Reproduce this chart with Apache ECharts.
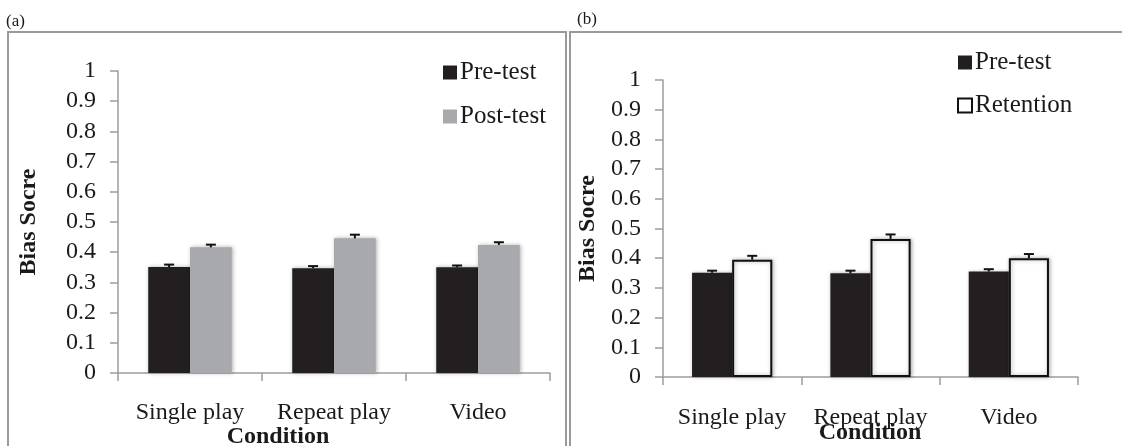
<!DOCTYPE html>
<html>
<head>
<meta charset="utf-8">
<script src="https://cdn.jsdelivr.net/npm/echarts@6/dist/echarts.min.js"></script>
<style>
html,body{margin:0;padding:0;background:#fff;}
#c{width:1122px;height:446px;}
</style>
</head>
<body>
<div id="c"></div>
<script>
// ---- data ----
var categories = ['Single play', 'Repeat play', 'Video'];
var preA = [0.351, 0.347, 0.350];
var preErrA = [0.008, 0.007, 0.006];
var postA = [0.416, 0.446, 0.424];
var postErrA = [0.009, 0.012, 0.009];
var preB = [0.351, 0.349, 0.355];
var preErrB = [0.007, 0.009, 0.008];
var retB = [0.395, 0.465, 0.400];
var retErrB = [0.013, 0.015, 0.014];
var yTicks = [0, 0.1, 0.2, 0.3, 0.4, 0.5, 0.6, 0.7, 0.8, 0.9, 1];

var FONT = '"Liberation Serif","Times New Roman",serif';
var TXT = '#1a1a1a';
var BLACK = '#231F20';
var GREY = '#A7A9AC';
var AXIS = '#9d9d9d';
var BAR_FRAC = 0.29;

function errData(vals, errs) {
  return vals.map(function (v, i) { return [i, v, errs[i]]; });
}
function errSeries(name, vals, errs, side, idx) {
  return {
    type: 'custom', name: name + ' err', xAxisIndex: idx, yAxisIndex: idx, z: 5,
    silent: true,
    data: errData(vals, errs),
    encode: { x: 0, y: 1 },
    renderItem: function (params, api) {
      var c = api.value(0), v = api.value(1), e = api.value(2);
      var band = api.size([1, 0])[0];
      var off = side * band * BAR_FRAC / 2;
      var p0 = api.coord([c, v]);
      var p1 = api.coord([c, v + e]);
      var x = p0[0] + off;
      return {
        type: 'group',
        children: [
          { type: 'line', shape: { x1: x, y1: p0[1], x2: x, y2: p1[1] }, style: { stroke: '#111', lineWidth: 2 } },
          { type: 'line', shape: { x1: x - 5, y1: p1[1], x2: x + 5, y2: p1[1] }, style: { stroke: '#111', lineWidth: 2 } }
        ]
      };
    }
  };
}
function xAx(idx, margin) {
  return {
    type: 'category', gridIndex: idx, data: categories,
    axisLine: { lineStyle: { color: AXIS, width: 1.5 } },
    axisTick: { show: true, length: 8, lineStyle: { color: AXIS, width: 1.5 } },
    axisLabel: { fontFamily: FONT, fontSize: 24, color: TXT, margin: margin, interval: 0, hideOverlap: false },
    splitLine: { show: false }
  };
}
function yAx(idx, gap) {
  return {
    type: 'value', gridIndex: idx, min: 0, max: 1, interval: 0.1,
    name: 'Bias Socre', nameLocation: 'middle', nameRotate: 90, nameGap: gap,
    nameTextStyle: { fontFamily: FONT, fontSize: 24, fontWeight: 'bold', color: TXT },
    axisLine: { show: true, lineStyle: { color: AXIS, width: 1.5 } },
    axisTick: { show: true, length: 8, lineStyle: { color: AXIS, width: 1.5 } },
    axisLabel: { fontFamily: FONT, fontSize: 24, color: TXT, margin: 22,
      formatter: function (v) { return String(Math.round(v * 10) / 10); } },
    splitLine: { show: false }
  };
}
var shadow = { shadowBlur: 4, shadowColor: 'rgba(0,0,0,0.3)', shadowOffsetX: 1, shadowOffsetY: 0 };

var option = {
  animation: false,
  backgroundColor: '#fff',
  grid: [
    { left: 118, right: 572, top: 71, bottom: 73 },
    { left: 663, right: 44, top: 80, bottom: 69 }
  ],
  xAxis: [xAx(0, 28), xAx(1, 29)],
  yAxis: [yAx(0, 77), yAx(1, 63)],
  legend: [
    { left: 443, top: 60, orient: 'vertical', itemWidth: 14, itemHeight: 14, itemGap: 19, padding: 0,
      icon: 'rect', data: ['Pre-test', 'Post-test'],
      textStyle: { fontFamily: FONT, fontSize: 25, color: TXT, padding: [0, 0, 0, -2] } },
    { left: 957, top: 50, orient: 'vertical', itemWidth: 14, itemHeight: 14, itemGap: 18, padding: 0,
      icon: 'rect', data: ['Pre-test', 'Retention'],
      textStyle: { fontFamily: FONT, fontSize: 25, color: TXT, padding: [0, 0, 0, -2] } }
  ],
  graphic: [
    { type: 'rect', shape: { x: 8, y: 32, width: 558, height: 440 }, style: { fill: 'none', stroke: '#9a9a9a', lineWidth: 2 }, z: 0 },
    { type: 'rect', shape: { x: 570, y: 32, width: 570, height: 440 }, style: { fill: 'none', stroke: '#9a9a9a', lineWidth: 2 }, z: 0 },
    { type: 'text', left: 6, top: 13, style: { text: '(a)', fontFamily: FONT, fontSize: 17, fill: TXT } },
    { type: 'text', left: 577, top: 11, style: { text: '(b)', fontFamily: FONT, fontSize: 17, fill: TXT } },
    { type: 'text', x: 278, y: 437, style: { text: 'Condition', fontFamily: FONT, fontSize: 24, fontWeight: 'bold', fill: TXT, align: 'center', verticalAlign: 'middle' } },
    { type: 'text', x: 870, y: 433, style: { text: 'Condition', fontFamily: FONT, fontSize: 24, fontWeight: 'bold', fill: TXT, align: 'center', verticalAlign: 'middle' } }
  ],
  series: [
    { type: 'bar', name: 'Pre-test', xAxisIndex: 0, yAxisIndex: 0, data: preA, barWidth: '29%', barGap: '0%',
      itemStyle: Object.assign({ color: BLACK }, shadow) },
    { type: 'bar', name: 'Post-test', xAxisIndex: 0, yAxisIndex: 0, data: postA, barWidth: '29%', barGap: '0%',
      itemStyle: Object.assign({ color: GREY }, shadow) },
    errSeries('Pre-test', preA, preErrA, -1, 0),
    errSeries('Post-test', postA, postErrA, 1, 0),
    { type: 'bar', name: 'Pre-test', xAxisIndex: 1, yAxisIndex: 1, data: preB, barWidth: '29%', barGap: '0%',
      itemStyle: Object.assign({ color: BLACK }, shadow) },
    { type: 'bar', name: 'Retention', xAxisIndex: 1, yAxisIndex: 1, data: retB, barWidth: '29%', barGap: '0%',
      itemStyle: Object.assign({ color: '#ffffff', borderColor: '#111', borderWidth: 2 }, shadow) },
    errSeries('Pre-test', preB, preErrB, -1, 1),
    errSeries('Retention', retB, retErrB, 1, 1)
  ]
};
var chart = echarts.init(document.getElementById('c'), null, { renderer: 'canvas' });
chart.setOption(option);
</script>
</body>
</html>
